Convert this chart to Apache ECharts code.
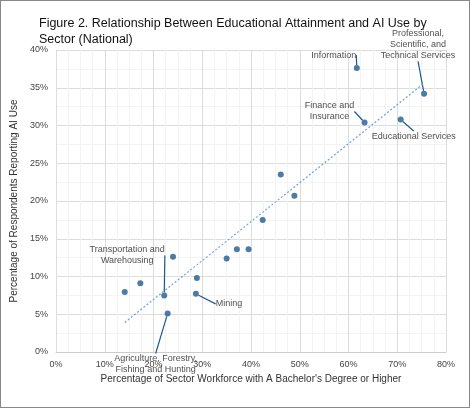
<!DOCTYPE html>
<html><head><meta charset="utf-8">
<script src="https://cdn.jsdelivr.net/npm/echarts@6/dist/echarts.min.js"></script>
<style>html,body{margin:0;padding:0;background:#fff}#c{width:470px;height:408px;box-sizing:border-box;border:1px solid #888}</style>
</head><body><div id="c"></div>
<script>
const bachelorPct = [14.1,17.3,22.2,24.0,22.9,28.9,28.7,35.0,37.1,39.5,42.4,46.1,48.9,61.7,63.3,70.7,75.5];
const aiUsePct    = [7.95,9.1,7.5,12.6,5.1,9.8,7.7,12.4,13.6,13.6,17.5,23.5,20.7,37.6,30.4,30.8,34.2];
const sectorLabels = ['','','Transportation and\nWarehousing','','Agriculture, Forestry,\nFishing and Hunting','','Mining','','','','','','','Information','Finance and\nInsurance','Educational Services','Professional,\nScientific, and\nTechnical Services'];
const labelOffsets = {2:[-37,-40],4:[-12,51],6:[33,10],13:[-23,-13],14:[-35,-11],15:[13,17],16:[-6,-49]};
const trendX = [14.1, 75.5];
const trendY = [3.9, 35.6];

const chart = echarts.init(document.getElementById('c'));
const pts = bachelorPct.map((x,i)=>{
  const o = {value:[x, aiUsePct[i]]};
  if (sectorLabels[i]) {
    o.label = {show:true, formatter:sectorLabels[i], position:'inside', align:'center', verticalAlign:'middle', color:'#222', fontSize:9, fontFamily:'Liberation Sans', lineHeight:11};
    o.labelLine = {show:true, lineStyle:{color:'#1f5a8f', width:1.2}};
  }
  return o;
});
chart.setOption({
  animation:false,
  title:{text:'Figure 2. Relationship Between Educational Attainment and AI Use by\nSector (National)', left:33, top:10,
    textStyle:{fontSize:12.5, fontWeight:'normal', color:'#111', fontFamily:'Liberation Sans', lineHeight:16}},
  grid:{left:55, right:23, top:49, bottom:55},
  xAxis:{type:'value', min:0, max:80, interval:10,
    name:'Percentage of Sector Workforce with A Bachelor\'s Degree or Higher', nameLocation:'middle', nameGap:22,
    nameTextStyle:{fontSize:10, color:'#333', fontFamily:'Liberation Sans'},
    axisLabel:{formatter:v=>v+'%', fontSize:9, color:'#444'},
    axisLine:{show:true, lineStyle:{color:'#ccc'}}, axisTick:{show:false},
    splitLine:{lineStyle:{color:'#dcdcdc'}}, minorTick:{show:false, splitNumber:4},
    minorSplitLine:{show:true, lineStyle:{color:'#f3f3f3'}}},
  yAxis:{type:'value', min:0, max:40, interval:5,
    name:'Percentage of Respondents Reporting AI Use', nameLocation:'middle', nameGap:32,
    nameTextStyle:{fontSize:10, color:'#333', fontFamily:'Liberation Sans'},
    axisLabel:{formatter:v=>v+'%', fontSize:9, color:'#444'},
    axisLine:{show:false}, axisTick:{show:false},
    splitLine:{lineStyle:{color:'#dcdcdc'}}, minorTick:{show:false, splitNumber:2},
    minorSplitLine:{show:true, lineStyle:{color:'#f3f3f3'}}},
  series:[
    {type:'line', data:trendX.map((x,i)=>[x,trendY[i]]), symbol:'none', silent:true,
      lineStyle:{color:'#6fa0d8', width:1.2, type:[2,2]}},
    {type:'scatter', data:pts, symbolSize:6, itemStyle:{color:'#1f5a8f'},
      labelLayout:function(p){ const o = labelOffsets[p.dataIndex]; return o ? {dx:o[0], dy:o[1]} : {}; }}
  ]
});
</script></body></html>
